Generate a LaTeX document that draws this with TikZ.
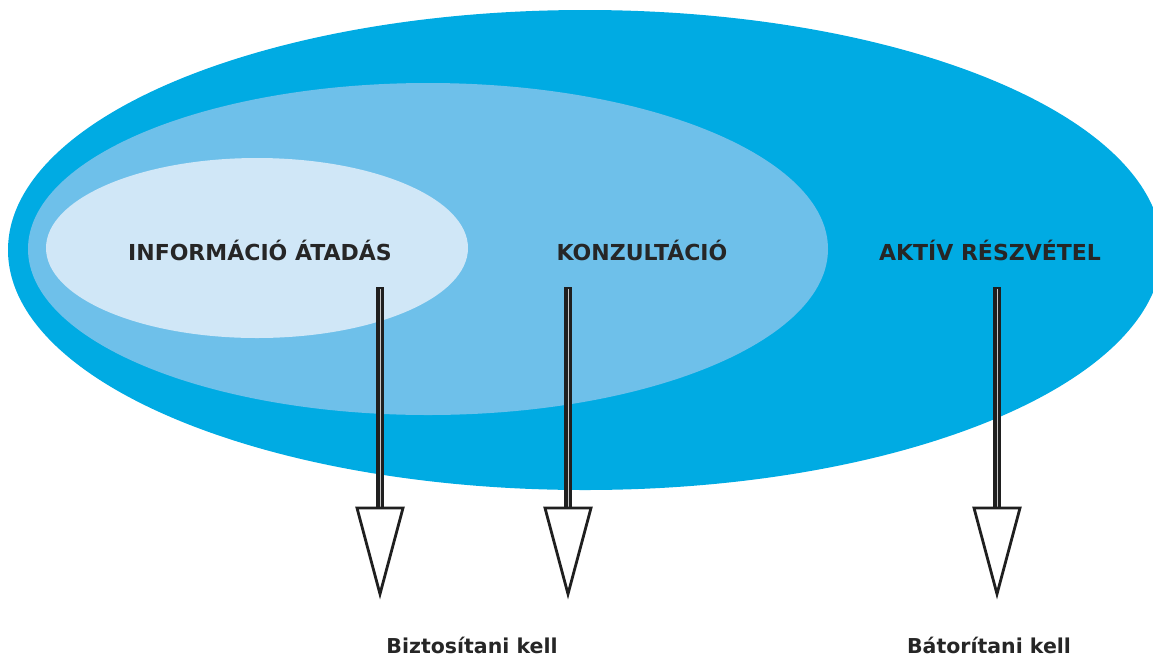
\documentclass[tikz,border=0pt]{standalone}
\usepackage{fontspec}
\setmainfont{DejaVu Sans}
\definecolor{outerblue}{RGB}{0,171,227}
\definecolor{midblue}{RGB}{110,192,234}
\definecolor{innerblue}{RGB}{208,231,247}
\begin{document}
\begin{tikzpicture}[x=1pt,y=-1pt,
  lbl/.style={font=\fontsize{22}{26}\selectfont\bfseries, text=black!85},
  sublbl/.style={font=\fontsize{20.5}{24}\selectfont\bfseries, text=black!85},
  shaft/.style={line width=8pt, draw=black!88},
  shaftcore/.style={line width=0.5pt, draw=gray!45},
  tri/.style={draw=black!88, line width=2.8pt, fill=white, line join=miter}]
\useasboundingbox (0,0) rectangle (1153,657);
\fill[outerblue] (585,250) ellipse [x radius=577, y radius=240];
\fill[midblue] (428,249) ellipse [x radius=400, y radius=166];
\fill[innerblue] (257,248) ellipse [x radius=211, y radius=90];
\node[lbl] (info) at (260,250) {INFORMÁCIÓ ÁTADÁS};
\node[lbl] (konz) at (642,250) {KONZULTÁCIÓ};
\node[lbl] (aktiv) at (990,250) {AKTÍV RÉSZVÉTEL};
\node[sublbl] (bizt) at (472,645) {Biztosítani kell};
\node[sublbl] (bator) at (989,645) {Bátorítani kell};
% arrows
\foreach \n/\x in {1/380,2/568,3/997}{
  \coordinate (top\n) at (\x,287);
  \coordinate (bot\n) at (\x,508);
  \draw[shaft] (top\n) -- (bot\n);
  \draw[shaftcore] ([yshift=-1.5]top\n) -- (bot\n);
  \draw[tri] ([xshift=-23]bot\n) -- ([xshift=23]bot\n) -- ([yshift=-86]bot\n) -- cycle;
}
\end{tikzpicture}
\end{document}
